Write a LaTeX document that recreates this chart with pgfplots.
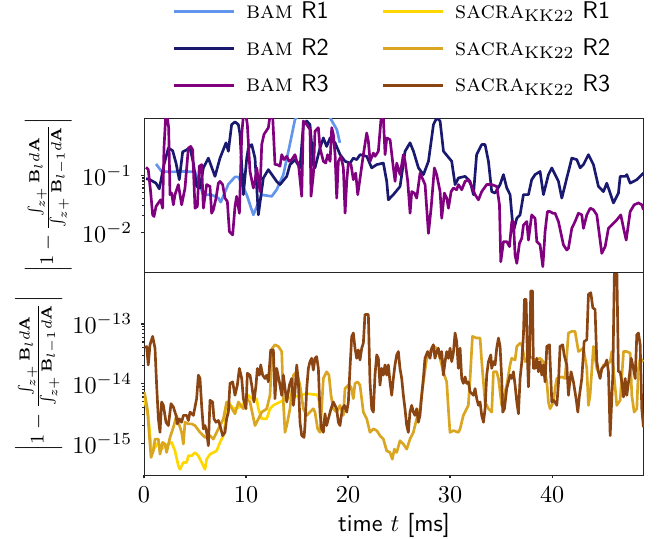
\documentclass[border=0pt]{standalone}
\usepackage{pgfplots}
\pgfplotsset{compat=1.18}
\usepackage{amsmath}
\definecolor{bamA}{RGB}{100,149,237}
\definecolor{bamB}{RGB}{25,25,112}
\definecolor{bamC}{RGB}{128,0,128}
\definecolor{sacA}{RGB}{255,215,0}
\definecolor{sacB}{RGB}{218,165,32}
\definecolor{sacC}{RGB}{139,69,19}
\newcommand{\ylab}{$\left|1-\frac{\int_{z+}\mathbf{B}_l d\mathbf{A}}{\int_{z+}\mathbf{B}_{l-1} d\mathbf{A}}\right|$}
\begin{document}
\begin{tikzpicture}
\begin{axis}[name=bot, width=206.6pt, height=83.9pt, scale only axis,
  xmin=0, xmax=49, ymode=log,
  tick align=outside, ytick pos=left, xtick pos=left,
  major tick length=1.3pt, minor tick length=0.8pt,
  every tick/.style={black!85, line width=0.5pt},
  axis line style={black!85},
  ymin=2.95e-16, ymax=7.4e-13,
  ytick={1e-15,1e-14,1e-13},
  xtick={0,10,20,30,40},
  xlabel={\textsf{time} $t$ \textsf{[ms]}},
  xlabel style={yshift=2.5pt},
  ylabel={\ylab},
  ylabel style={font=\footnotesize}, ylabel shift=-2.5pt]
\addplot[sacA, line width=1.1pt, line join=round] table {
0 6.8e-15
0.1 4.93e-15
0.42 2.94e-15
0.59 1.35e-15
0.75 7.5e-16
1.08 8.55e-16
1.41 1.04e-15
1.73 8.0e-16
2.06 9.1e-16
2.39 9.75e-16
2.71 1.04e-15
3.04 7.5e-16
3.37 4.2e-16
3.53 3.68e-16
3.86 4.8e-16
4.18 4.8e-16
4.35 6.2e-16
4.67 6.2e-16
5.0 7.05e-16
5.33 6.2e-16
5.65 4.8e-16
5.98 3.68e-16
6.14 5.4e-16
6.47 6.6e-16
6.8 7.05e-16
7.12 7.5e-16
7.45 1.04e-15
7.78 1.35e-15
8.1 3.34e-15
8.27 4.93e-15
8.76 3.8e-15
9.41 4.06e-15
10.07 5.26e-15
10.23 6.4e-15
10.72 5.26e-15
11.05 5.6e-15
11.21 3.8e-15
11.54 2.58e-15
12.03 2.58e-15
12.35 3.8e-15
12.68 4.34e-15
13.33 4.93e-15
13.99 5.6e-15
14.64 5.99e-15
15.29 6.4e-15
15.95 6.8e-15
16.6 6.6e-15
17.0 6.5e-15
17.3 4.0e-15
};
\addplot[sacB, line width=1.1pt, line join=round] table {
0 7.28e-15
0.1 6.39e-15
0.33 3.80e-15
0.52 1.35e-15
0.69 5.8e-16
0.92 7.5e-16
1.08 1.18e-15
1.41 1.18e-15
1.57 6.6e-16
1.83 1.04e-15
2.06 9.75e-16
2.22 7.05e-16
2.55 1.26e-15
2.88 1.86e-15
3.2 2.94e-15
3.37 2.26e-15
3.69 1.53e-15
3.86 9.75e-16
4.02 2.26e-15
4.35 2.12e-15
4.67 2.12e-15
5.0 1.99e-15
5.49 1.53e-15
5.98 1.26e-15
6.47 1.35e-15
6.8 1.18e-15
7.12 1.53e-15
7.45 1.99e-15
7.78 2.58e-15
8.1 4.93e-15
8.43 4.33e-15
8.92 3.13e-15
9.25 4.93e-15
9.74 3.80e-15
10.07 5.61e-15
10.39 4.93e-15
10.88 1.99e-15
11.21 2.58e-15
11.54 3.34e-15
12.03 3.80e-15
12.35 6.39e-15
12.58 3.93e-14
12.84 4.48e-14
13.17 4.2e-14
13.5 3.45e-14
13.66 4.93e-15
13.82 1.53e-15
13.99 1.99e-15
14.31 3.80e-15
14.64 1.39e-14
14.97 1.58e-14
15.29 9.44e-15
15.62 3.80e-15
15.95 2.94e-15
16.27 3.34e-15
16.6 3.80e-15
16.76 3.34e-15
17.02 1.75e-15
17.25 1.53e-15
17.41 3.80e-15
17.58 1.22e-14
17.9 1.58e-14
18.13 1.39e-14
18.33 6.39e-15
18.56 3.80e-15
18.88 3.34e-15
19.21 4.33e-15
19.54 2.94e-15
19.7 8.28e-15
20.03 9.44e-15
20.29 8.84e-15
20.52 5.61e-15
20.68 1.01e-14
20.94 1.07e-14
21.17 9.44e-15
21.5 3.34e-15
21.83 2.58e-15
22.15 1.53e-15
22.48 1.75e-15
22.81 1.64e-15
23.13 1.35e-15
23.46 1.18e-15
23.79 7.5e-16
24.11 7.05e-16
24.34 5.43e-16
24.54 8.0e-16
24.77 7.05e-16
25.09 1.11e-15
25.42 9.75e-16
25.75 8.0e-16
26.07 1.18e-15
26.4 1.53e-15
26.73 2.58e-15
27.05 3.80e-15
27.38 1.07e-14
27.71 2.66e-14
28.03 3.45e-14
28.36 4.2e-14
28.69 3.93e-14
29.02 2.66e-14
29.34 1.58e-14
29.67 1.07e-14
29.83 3.80e-15
29.99 1.53e-15
30.32 1.64e-15
30.81 1.53e-15
30.98 1.75e-15
31.3 2.94e-15
31.63 3.80e-15
31.79 4.33e-15
31.96 1.22e-14
32.19 6.19e-14
32.61 5.8e-14
32.94 5.8e-14
33.1 2.34e-14
33.43 4.93e-15
33.76 3.80e-15
34.08 3.34e-15
34.25 1.58e-14
34.57 1.58e-14
34.74 1.22e-14
35.06 4.33e-15
35.55 9.44e-15
35.88 2.06e-14
36.04 2.66e-14
36.37 2.49e-14
36.54 4.2e-14
36.86 4.77e-14
37.03 4.48e-14
37.35 2.34e-14
37.52 2.49e-14
37.84 2.84e-14
38.33 2.49e-14
38.82 2.66e-14
39.15 2.34e-14
39.48 1.07e-14
39.64 4.93e-15
39.8 3.80e-15
40.13 4.93e-15
40.29 8.28e-15
40.46 1.22e-14
40.95 1.30e-14
41.27 1.22e-14
41.6 7.05e-14
41.93 7.5e-14
42.25 7.5e-14
42.58 3.45e-14
43.07 3.93e-14
43.4 1.80e-14
43.56 4.33e-15
43.72 6.39e-15
44.05 4.2e-14
44.38 1.80e-14
44.7 1.39e-14
45.03 2.06e-14
45.36 2.06e-14
45.69 2.34e-14
45.85 3.45e-14
46.34 4.33e-15
46.67 5.26e-15
47.0 3.45e-14
47.32 3.45e-14
47.65 3.24e-14
47.81 6.39e-15
48.04 3.34e-15
48.3 3.80e-15
48.46 1.80e-14
48.63 2.66e-14
48.95 2.34e-14
};
\addplot[sacC, line width=1.1pt, line join=round] table {
0.1 3.93e-14
0.26 4.2e-14
0.42 2.06e-14
0.59 4.48e-14
0.85 6.19e-14
1.08 3.93e-14
1.24 9.44e-15
1.41 2.58e-15
1.57 1.53e-15
1.73 4.93e-15
1.9 4.33e-15
2.16 2.26e-15
2.39 1.99e-15
2.65 4.62e-15
2.88 4.06e-15
3.14 2.94e-15
3.27 2.12e-15
3.46 2.58e-15
3.69 2.26e-15
3.86 2.94e-15
4.18 2.94e-15
4.35 2.42e-15
4.51 3.34e-15
4.84 2.94e-15
5.16 5.61e-15
5.33 1.39e-14
5.49 1.22e-14
5.65 4.33e-15
5.82 1.75e-15
5.98 1.99e-15
6.14 1.53e-15
6.31 9.14e-16
6.47 5.26e-15
6.73 4.93e-15
6.86 2.58e-15
7.06 2.26e-15
7.29 2.42e-15
7.45 1.99e-15
7.71 1.35e-15
7.94 1.53e-15
8.1 2.58e-15
8.27 3.34e-15
8.43 1.01e-14
8.69 1.07e-14
8.92 6.39e-15
9.15 9.44e-15
9.35 1.80e-14
9.58 1.22e-14
9.74 5.61e-15
10.0 3.80e-15
10.13 1.49e-14
10.39 1.39e-14
10.56 9.44e-15
10.78 4.93e-15
10.98 9.44e-15
11.11 1.80e-14
11.31 1.39e-14
11.44 2.06e-14
11.63 1.39e-14
11.86 1.22e-14
12.03 1.39e-14
12.19 1.07e-14
12.42 3.68e-14
12.68 3.68e-14
12.84 5.61e-15
13.01 1.80e-14
13.27 1.07e-14
13.5 6.39e-15
13.66 1.39e-14
13.99 4.93e-15
14.25 9.44e-15
14.48 1.22e-14
14.64 4.33e-15
14.8 7.28e-15
14.97 2.06e-14
15.13 1.07e-14
15.29 2.26e-15
15.46 1.35e-15
15.69 1.26e-15
15.78 1.99e-15
15.95 8.28e-15
16.11 1.80e-14
16.27 2.34e-14
16.43 2.66e-14
16.6 1.69e-14
16.76 2.66e-14
16.92 2.84e-14
17.09 1.80e-14
17.25 3.34e-15
17.41 1.75e-15
17.58 1.53e-15
17.74 3.13e-15
17.9 1.99e-15
18.07 2.58e-15
18.33 3.80e-15
18.56 4.93e-15
18.72 4.33e-15
18.88 3.80e-15
19.05 2.26e-15
19.21 1.99e-15
19.44 3.80e-15
19.64 4.33e-15
19.87 3.34e-15
20.03 4.93e-15
20.19 1.80e-14
20.36 6.19e-14
20.52 7.05e-14
20.68 3.93e-14
20.85 2.66e-14
21.01 3.68e-14
21.17 2.49e-14
21.34 3.93e-14
21.5 4.77e-14
21.66 1.44e-13
21.99 1.44e-13
22.15 1.07e-14
22.32 3.80e-15
22.48 3.34e-15
22.64 1.39e-14
22.81 3.03e-14
22.97 2.66e-14
23.13 9.44e-15
23.3 1.80e-14
23.46 1.39e-14
23.62 2.06e-14
23.79 1.39e-14
23.95 2.06e-14
24.11 1.07e-14
24.28 6.39e-15
24.44 1.22e-14
24.6 2.06e-14
24.77 3.03e-14
24.93 3.45e-14
25.09 1.80e-14
25.26 1.22e-14
25.42 6.39e-15
25.58 3.80e-15
25.75 1.99e-15
25.91 1.53e-15
26.07 3.34e-15
26.24 4.33e-15
26.4 3.34e-15
26.56 2.94e-15
26.73 3.80e-15
26.89 2.26e-15
27.05 2.94e-15
27.22 6.39e-15
27.38 1.22e-14
27.54 2.66e-14
27.8 3.45e-14
28.03 2.66e-14
28.2 3.93e-14
28.36 4.48e-14
28.52 2.66e-14
28.69 3.45e-14
28.85 3.93e-14
29.02 2.66e-14
29.18 3.45e-14
29.34 1.39e-14
29.51 2.34e-14
29.67 3.45e-14
29.83 2.66e-14
30.0 3.93e-14
30.16 2.34e-14
30.32 3.24e-14
30.49 7.05e-14
30.65 5.09e-14
30.81 1.80e-14
30.98 3.93e-14
31.14 1.22e-14
31.3 1.01e-14
31.47 1.30e-14
31.63 1.01e-14
31.79 1.07e-14
31.96 7.28e-15
32.29 6.39e-15
32.45 8.28e-15
32.61 5.61e-15
32.78 4.33e-15
32.94 4.93e-15
33.1 2.94e-15
33.27 2.26e-15
33.43 3.80e-15
33.59 1.39e-14
33.76 2.34e-14
33.99 3.03e-14
34.08 1.80e-14
34.25 2.34e-14
34.41 2.06e-14
34.57 3.93e-14
34.74 5.8e-14
34.9 4.2e-14
35.06 1.22e-14
35.16 3.34e-15
35.33 3.80e-15
35.55 8.28e-15
35.72 1.07e-14
35.88 1.39e-14
36.04 1.22e-14
36.21 1.58e-14
36.37 9.44e-15
36.54 4.93e-15
36.7 3.13e-15
36.86 1.22e-14
37.03 2.34e-14
37.19 6.6e-14
37.29 2.58e-13
37.45 2.58e-13
37.58 2.66e-14
37.68 8.84e-15
37.78 2.84e-14
37.91 3.56e-13
38.07 3.56e-13
38.17 1.80e-14
38.33 1.80e-14
38.5 2.66e-14
38.66 1.58e-14
38.82 2.34e-14
38.99 1.39e-14
39.15 2.06e-14
39.31 1.07e-14
39.48 4.2e-14
39.74 4.48e-14
39.97 4.93e-15
40.13 5.26e-15
40.29 4.93e-15
40.46 4.33e-15
40.62 1.01e-14
40.78 4.2e-14
41.04 4.48e-14
41.18 3.03e-14
41.44 2.06e-14
41.6 6.39e-15
41.7 9.44e-15
41.86 1.58e-14
42.09 1.07e-14
42.35 5.61e-15
42.52 3.34e-15
42.68 6.39e-15
42.91 1.22e-14
43.14 5.09e-14
43.4 5.43e-14
43.56 3.13e-13
43.79 3.34e-13
43.99 1.86e-13
44.21 1.75e-13
44.38 2.34e-14
44.54 1.58e-14
44.7 1.22e-14
44.87 1.80e-14
45.2 2.06e-14
45.36 2.49e-14
45.52 1.58e-14
45.69 1.35e-15
45.95 1.39e-14
46.11 9e-13
46.34 9e-13
46.5 1.58e-14
46.67 1.58e-14
46.83 1.07e-14
47.0 5.99e-15
47.16 1.22e-14
47.32 6.39e-15
47.58 1.39e-14
47.75 2.66e-14
47.97 1.80e-14
48.14 1.22e-14
48.3 6.6e-14
48.46 7.05e-14
48.63 4.48e-14
48.79 3.80e-15
48.95 1.86e-15
};
\end{axis}
\begin{axis}[name=top, at={(bot.north west)}, anchor=south west,
  width=206.6pt, height=63.6pt, scale only axis,
  xmin=0, xmax=49, ymode=log,
  tick align=outside, ytick pos=left,
  major tick length=1.3pt, minor tick length=0.8pt,
  every tick/.style={black!85, line width=0.5pt},
  axis line style={black!85},
  ymin=2.05e-3, ymax=1.0,
  ytick={0.01,0.1}, xtick=\empty,
  ylabel={\ylab},
  ylabel style={font=\footnotesize}, ylabel shift=-2.5pt,
  legend columns=2,
  legend cell align=left,
  legend image code/.code={\draw[#1, line width=1.1pt] (0pt,0pt) -- (24.8pt,0pt); \path (27.5pt,0pt);},
  legend style={at={(0.5,1.08)}, anchor=south, draw=none, fill=none,
    row sep=2.8pt, /tikz/every even column/.append style={column sep=20pt}}]
\addlegendimage{bamA}\addlegendentry{\textsc{bam} \textsf{R1}}
\addlegendimage{sacA}\addlegendentry{\textsc{sacra}$_{\mathrm{KK22}}$ \textsf{R1}}
\addlegendimage{bamB}\addlegendentry{\textsc{bam} \textsf{R2}}
\addlegendimage{sacB}\addlegendentry{\textsc{sacra}$_{\mathrm{KK22}}$ \textsf{R2}}
\addlegendimage{bamC}\addlegendentry{\textsc{bam} \textsf{R3}}
\addlegendimage{sacC}\addlegendentry{\textsc{sacra}$_{\mathrm{KK22}}$ \textsf{R3}}
\addplot[bamA, line width=1.1pt, line join=round, forget plot] table {
1.18 0.158
1.73 0.117
2.88 0.115
3.86 0.117
5.0 0.115
5.33 0.0785
5.82 0.0457
6.63 0.0457
7.29 0.040
7.52 0.034
8.27 0.070
8.92 0.094
9.25 0.094
10.07 0.0457
10.72 0.0204
11.54 0.0457
12.52 0.043
13.0 0.056
13.66 0.103
14.3 0.35
14.8 0.95
15.5 1.3
16.3 1.6
17.2 1.6
18.0 1.2
18.9 0.63
19.2 0.37
};
\addplot[bamB, line width=1.1pt, line join=round, forget plot] table {
0.2 0.0875
0.59 0.084
1.18 0.073
1.5 0.058
1.96 0.154
2.39 0.30
2.81 0.27
3.14 0.164
3.46 0.084
3.79 0.257
4.51 0.30
4.84 0.164
5.16 0.064
5.49 0.060
5.82 0.135
6.31 0.20
6.96 0.096
7.45 0.20
8.04 0.37
8.27 0.264
8.59 0.77
8.92 0.86
9.25 0.77
9.41 0.52
9.74 0.046
10.07 0.20
10.23 0.30
10.56 0.345
10.88 0.20
11.21 0.0204
11.7 0.090
12.19 0.126
13.0 0.0785
13.33 0.069
13.99 0.096
14.31 0.154
14.8 0.188
15.29 0.135
15.62 0.77
15.95 0.89
16.27 0.77
16.6 0.154
16.76 0.135
17.25 0.30
17.58 0.45
17.9 0.32
18.24 0.45
18.73 0.37
19.22 0.23
19.71 0.176
20.2 0.164
20.52 0.20
20.85 0.188
21.18 0.23
21.83 0.215
22.32 0.135
22.81 0.154
23.46 0.164
23.79 0.0785
23.95 0.0374
24.44 0.046
25.1 0.064
25.59 0.264
26.08 0.37
26.41 0.264
26.9 0.135
27.39 0.103
27.88 0.176
28.37 0.77
28.69 1.01
29.02 0.89
29.35 0.264
30.16 0.176
30.49 0.069
30.82 0.090
31.47 0.096
31.96 0.0785
32.29 0.046
32.6 0.23
33.1 0.345
33.43 0.345
33.76 0.176
34.08 0.052
34.41 0.049
34.9 0.069
35.23 0.103
35.56 0.060
35.88 0.046
36.2 0.0104
36.54 0.0178
36.86 0.0204
37.19 0.046
37.68 0.046
38.0 0.084
38.33 0.103
38.82 0.117
39.15 0.046
39.64 0.103
39.97 0.135
40.62 0.0785
40.95 0.040
41.44 0.090
41.93 0.20
42.42 0.188
42.75 0.135
43.07 0.154
43.56 0.23
44.05 0.154
44.54 0.064
45.03 0.052
45.36 0.073
46.01 0.033
46.5 0.049
46.67 0.096
47.16 0.096
47.32 0.103
47.65 0.073
48.3 0.084
48.95 0.11
};
\addplot[bamC, line width=1.1pt, line join=round, forget plot] table {
0.2 0.138
0.42 0.126
0.65 0.052
0.85 0.0204
0.98 0.0191
1.18 0.0286
1.41 0.033
1.63 0.0374
1.83 0.0267
1.96 0.30
2.12 1.01
2.29 1.01
2.42 0.68
2.55 0.046
2.71 0.049
2.88 0.0306
3.04 0.046
3.37 0.069
3.69 0.0306
4.02 0.060
4.35 0.30
4.58 0.32
4.77 0.28
5.0 0.0267
5.23 0.0286
5.42 0.144
5.65 0.154
5.82 0.0267
6.14 0.069
6.47 0.064
6.63 0.0218
6.8 0.025
7.06 0.040
7.29 0.073
7.45 0.0785
7.71 0.069
7.94 0.040
8.17 0.035
8.37 0.0104
8.69 0.0091
8.92 0.0286
9.08 0.043
9.35 0.0218
9.58 0.52
9.74 1.1
10.0 1.1
10.13 0.77
10.39 0.117
10.72 0.060
10.88 0.0785
11.05 0.135
11.37 0.052
11.54 0.345
11.76 0.52
12.19 0.68
12.35 1.1
12.61 1.1
12.84 0.154
13.07 0.154
13.33 0.144
13.5 0.23
13.73 0.188
13.99 0.215
14.22 0.176
14.48 0.188
14.8 0.23
14.97 0.176
15.13 0.164
15.46 0.043
15.62 0.89
15.95 0.77
16.27 0.63
16.37 0.043
16.6 0.103
16.76 0.59
17.09 0.68
17.25 0.30
17.58 0.176
17.81 0.164
18.0 0.23
18.24 0.176
18.4 0.68
18.56 0.52
18.73 0.23
18.89 0.040
19.05 0.176
19.31 0.215
19.54 0.135
19.71 0.0218
19.87 0.0785
20.03 0.164
20.29 0.154
20.52 0.084
20.75 0.11
20.95 0.046
21.18 0.090
21.5 0.23
21.83 0.55
21.99 0.395
22.16 0.176
22.48 0.245
22.65 0.215
22.97 0.264
23.24 1.01
23.46 1.01
23.63 0.23
23.79 0.45
24.12 0.42
24.44 0.135
24.61 0.0785
24.77 0.164
25.1 0.103
25.42 0.23
25.59 0.176
25.85 0.0785
26.08 0.0218
26.24 0.052
26.5 0.049
26.73 0.040
27.06 0.11
27.55 0.069
27.88 0.0097
28.14 0.0267
28.46 0.135
28.69 0.103
29.02 0.052
29.18 0.0178
29.44 0.049
29.67 0.040
29.84 0.0267
30.1 0.052
30.33 0.060
30.65 0.056
30.82 0.069
31.14 0.056
31.47 0.0785
31.8 0.084
32.12 0.064
32.45 0.046
32.78 0.0374
33.1 0.052
33.59 0.069
34.08 0.069
34.58 0.064
34.84 0.0306
34.97 0.0031
35.23 0.00695
35.56 0.00695
35.82 0.0057
36.05 0.0156
36.21 0.0156
36.37 0.00406
36.54 0.0029
36.8 0.0065
37.03 0.0080
37.19 0.0136
37.52 0.0156
37.68 0.0074
38.0 0.0204
38.33 0.0178
38.5 0.00695
38.82 0.0061
39.09 0.00254
39.31 0.0104
39.54 0.0233
39.8 0.0233
40.07 0.0218
40.29 0.0218
40.62 0.0156
41.11 0.0061
41.44 0.00497
41.6 0.0053
41.93 0.0119
42.25 0.0156
42.58 0.0218
42.91 0.0204
43.07 0.0119
43.4 0.0204
43.73 0.0267
44.05 0.025
44.38 0.0204
44.87 0.00434
45.2 0.0057
45.52 0.0119
45.85 0.0136
46.34 0.0167
46.73 0.0204
47.0 0.0119
47.26 0.0074
47.65 0.0233
48.04 0.0306
48.46 0.033
48.79 0.0306
48.95 0.025
};
\end{axis}
\pgfresetboundingbox
\path[use as bounding box] ([xshift=-59.5pt,yshift=-26.4pt]bot.south west) rectangle ([xshift=5.4pt,yshift=48.8pt]top.north east);
\end{tikzpicture}
\end{document}
